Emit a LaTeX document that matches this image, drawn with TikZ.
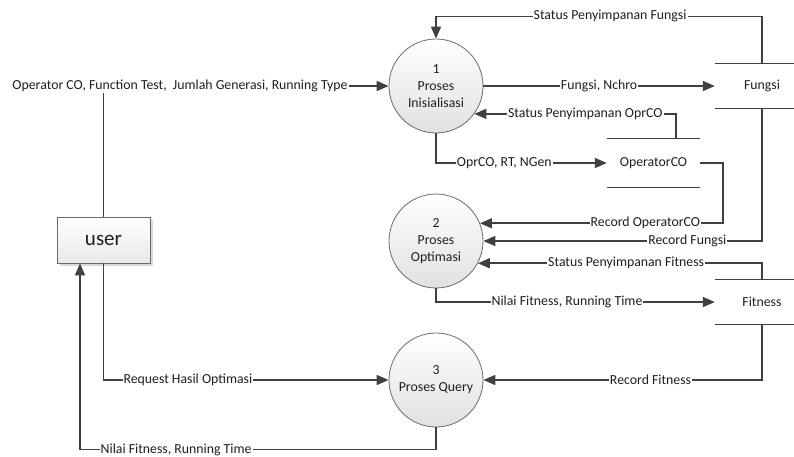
\documentclass[tikz,border=0pt]{standalone}
\usepackage{fontspec}
\setmainfont{Carlito}
\usetikzlibrary{arrows.meta,positioning,shadows}
\definecolor{linegray}{HTML}{404040}
\definecolor{rimgray}{HTML}{6A6A6A}

\begin{document}
\begin{tikzpicture}[x=1pt,y=-1pt,>={Triangle[length=12pt,width=10pt]},
  every node/.style={font=\fontsize{13.8}{17}\selectfont,text=black!88},
  proc/.style={circle,draw=rimgray,line width=0.8pt,top color=white,bottom color=black!12,minimum size=94pt,inner sep=0pt,align=center},
  entity/.style={draw=rimgray,line width=0.8pt,top color=white,bottom color=black!9,minimum width=93pt,minimum height=46pt,drop shadow={shadow xshift=3pt,shadow yshift=-3pt,fill=black!15,opacity=1}},
  store/.style={minimum width=94pt,minimum height=45pt,inner sep=0pt},
  storeline/.style={draw=linegray,line width=0.9pt},
  flow/.style={draw=linegray,line width=1.6pt,->},
  lbl/.style={fill=white,inner sep=1pt}]
  \useasboundingbox (0,0) rectangle (794,456);

  \node[proc] (c1) at (436,86) {1\\Proses\\Inisialisasi};
  \node[proc] (c2) at (436,241) {2\\Proses\\Optimasi};
  \node[proc] (c3) at (436,380) {3\\Proses Query};
  \node[entity,font=\fontsize{21}{24}\selectfont] (user) at (103.5,240) {user};
  \node[inner sep=1pt] (inp) at (180,86) {Operator CO, Function Test,~ Jumlah Generasi, Running Type};

  \node[store] (fungsi) at (762,86) {Fungsi};
  \node[store,minimum width=93pt,minimum height=48pt] (oprco) at (653.5,163) {OperatorCO};
  \node[store] (fitness) at (762,302) {Fitness};

  \draw[storeline] (fungsi.north west) -- +(79,0) (fungsi.south west) -- +(79,0);
  \draw[storeline] (oprco.north west) -- (oprco.north east) (oprco.south west) -- (oprco.south east);
  \draw[storeline] (fitness.north west) -- +(79,0) (fitness.south west) -- +(79,0);

  \draw[flow] (inp) -- (c1);
  \draw[draw=linegray,line width=1.6pt] (user) -- (user |- inp.south);
  \draw[flow] (fungsi.north) -- ++(0,-47) -| (c1.north) node[lbl,pos=0.233] {Status Penyimpanan Fungsi};
  \draw[flow] (c1) -- (fungsi) node[lbl,midway] {Fungsi, Nchro};
  \draw[flow] ([xshift=22.5pt]oprco.north) |- (c1.-36.6) node[lbl,pos=0.725] {Status Penyimpanan OprCO};
  \draw[flow] (c1.south) |- (oprco.west) node[lbl,pos=0.7] {OprCO, RT, NGen};
  \draw[flow] (oprco.east) -- ++(23,0) |- (c2.22) node[lbl,pos=0.66] {Record OperatorCO};
  \draw[flow] (fungsi.south) |- (c2.east) node[lbl,pos=0.634] {Record Fungsi};
  \draw[flow] (fitness.north) |- (c2.-28) node[lbl,pos=0.739] {Status Penyimpanan Fitness};
  \draw[flow] (c2.south) |- (fitness.west) node[lbl,pos=0.735] {Nilai Fitness, Running Time};
  \draw[flow] (fitness.south) |- (c3.east) node[lbl,pos=0.7] {Record Fitness};
  \draw[flow] (user.south) |- (c3.west) node[lbl,pos=0.648] {Request Hasil Optimasi};
  \draw[flow] (c3.south) -- ++(0,22) -| ([xshift=-23.5pt]user.south) node[lbl,pos=0.365] {Nilai Fitness, Running Time};
\end{tikzpicture}
\end{document}
